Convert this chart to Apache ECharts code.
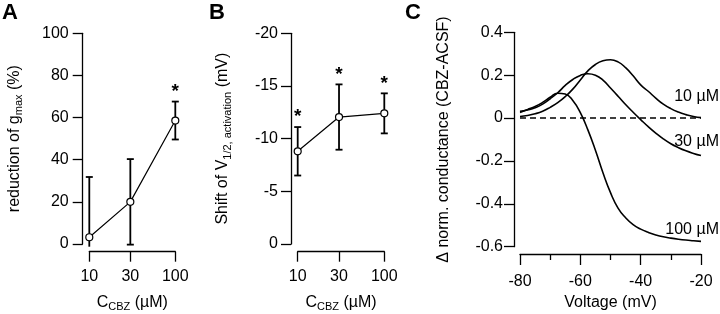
<!DOCTYPE html>
<html>
<head>
<meta charset="utf-8">
<script src="https://cdn.jsdelivr.net/npm/echarts@6/dist/echarts.min.js"></script>
<style>
html, body { margin: 0; padding: 0; background: #fff; }
#chart { width: 720px; height: 314px; }
</style>
</head>
<body>
<div id="chart"></div>
<script>
// A and B: CBZ concentrations (µM)
var conc = [10, 30, 100];
var gmaxMean = [3.2, 20, 58.6];
var gmaxSd = [28.6, 20.3, 9];
var gmaxSig = [0, 0, 1];
var shiftMean = [-8.8, -12.05, -12.4];
var shiftSd = [2.3, 3.1, 1.9];
var shiftSig = [1, 1, 1];

// C: conductance difference vs voltage
var voltage = [-80, -77.5, -75, -72.5, -70, -67.5, -65, -62.5, -60, -57.5, -55, -52.5, -50,
  -47.5, -45, -42.5, -40, -37.5, -35, -32.5, -30, -27.5, -25, -22.5, -20];
var g10 = [0.007, 0.012, 0.02, 0.032, 0.05, 0.072, 0.1, 0.135, 0.178, 0.22, 0.25, 0.267, 0.272,
  0.262, 0.235, 0.197, 0.155, 0.125, 0.093, 0.065, 0.044, 0.028, 0.016, 0.007, 0.002];
var g30 = [0.031, 0.038, 0.048, 0.065, 0.09, 0.118, 0.152, 0.18, 0.199, 0.207, 0.2, 0.177, 0.14,
  0.102, 0.063, 0.027, -0.007, -0.04, -0.07, -0.097, -0.12, -0.138, -0.153, -0.165, -0.175];
var g100 = [0.026, 0.04, 0.054, 0.073, 0.097, 0.116, 0.112, 0.082, 0.025, -0.055, -0.15, -0.255, -0.348,
  -0.42, -0.465, -0.497, -0.518, -0.533, -0.545, -0.554, -0.56, -0.565, -0.569, -0.572, -0.575];
var curveNames = ['10 µM', '30 µM', '100 µM'];

var FONT = 'Liberation Sans, Arial, sans-serif';
var rich = {
  n: { fontFamily: FONT, fontSize: 16, color: '#000' },
  s: { fontFamily: FONT, fontSize: 11, color: '#000', verticalAlign: 'bottom', padding: [0, 0, -2, 0] }
};

function pairs(xs, ys) {
  return xs.map(function (x, i) { return [x, ys[i]]; });
}

// vertical SD bars with caps, clipped just below the axis, plus the significance star
function errorBars(mean, sd, sig) {
  return function (params, api) {
    var i = params.dataIndex;
    var x = conc[i];
    var p1 = api.coord([x, mean[i] + sd[i]]);
    var p2 = api.coord([x, mean[i] - sd[i]]);
    var yTop = Math.min(p1[1], p2[1]);
    var yBot = Math.max(p1[1], p2[1]);
    var floor = params.coordSys.y + params.coordSys.height + 2.7;
    var capBot = true;
    if (yBot > floor) { yBot = floor; capBot = false; }
    var cx = p1[0];
    var st = { stroke: '#000', lineWidth: 1.8 };
    var kids = [
      { type: 'line', shape: { x1: cx, y1: yTop, x2: cx, y2: yBot }, style: st },
      { type: 'line', shape: { x1: cx - 3.5, y1: yTop, x2: cx + 3.5, y2: yTop }, style: st }
    ];
    if (capBot) {
      kids.push({ type: 'line', shape: { x1: cx - 3.5, y1: yBot, x2: cx + 3.5, y2: yBot }, style: st });
    }
    if (sig[i]) {
      kids.push({ type: 'text', style: { text: '*', x: cx, y: yTop - 10, align: 'center',
        verticalAlign: 'middle', font: 'bold 19px ' + FONT, fill: '#000' } });
    }
    return { type: 'group', children: kids };
  };
}

var axisLineStyle = { color: '#000', width: 1.3 };

function concAxis(idx, offset) {
  return {
    type: 'log', gridIndex: idx, min: 10, max: 100, logBase: 10, offset: offset,
    name: '{n|C}{s|CBZ}{n| (µM)}', nameLocation: 'middle', nameGap: 43,
    nameTextStyle: { rich: rich },
    axisLine: { show: true, onZero: false, lineStyle: axisLineStyle },
    axisTick: { show: true, length: 10, lineStyle: axisLineStyle, customValues: conc },
    axisLabel: { margin: 17, fontFamily: FONT, fontSize: 16, color: '#000', customValues: conc,
      formatter: function (v) { return String(Math.round(v)); } },
    splitLine: { show: false }, minorTick: { show: false }
  };
}

function valueAxis(idx, opts) {
  var base = {
    type: 'value', gridIndex: idx, nameLocation: 'middle',
    nameTextStyle: { rich: rich, fontFamily: FONT, fontSize: 16, color: '#000' },
    axisLine: { show: true, onZero: false, lineStyle: axisLineStyle },
    axisTick: { show: true, length: 10, lineStyle: axisLineStyle },
    axisLabel: { fontFamily: FONT, fontSize: 16, color: '#000' },
    splitLine: { show: false }
  };
  for (var k in opts) {
    if (typeof opts[k] === 'object' && base[k] && !Array.isArray(opts[k])) {
      for (var j in opts[k]) base[k][j] = opts[k][j];
    } else {
      base[k] = opts[k];
    }
  }
  return base;
}

function meanSeries(idx, mean) {
  return {
    type: 'line', xAxisIndex: idx, yAxisIndex: idx, data: pairs(conc, mean), z: 5,
    symbol: 'circle', symbolSize: 7,
    itemStyle: { color: '#fff', borderColor: '#000', borderWidth: 1.2 },
    lineStyle: { color: '#000', width: 1.2 }
  };
}

function curveSeries(k, ys, dy) {
  return {
    type: 'line', name: curveNames[k], xAxisIndex: 2, yAxisIndex: 2, data: pairs(voltage, ys),
    smooth: true, showSymbol: false, symbol: 'none', z: 4,
    lineStyle: { color: '#000', width: 1.6 },
    endLabel: { show: true, formatter: '{a}', align: 'right', verticalAlign: 'middle',
      distance: 0, offset: [18, dy], fontFamily: FONT, fontSize: 16, color: '#000' }
  };
}

var chart = echarts.init(document.getElementById('chart'), null, { renderer: 'canvas' });

var first = curveSeries(0, g10, -21);
first.markLine = {
  silent: true, symbol: 'none', label: { show: false }, z: 2,
  lineStyle: { color: '#000', width: 1.5, type: [6, 4] },
  data: [{ yAxis: 0 }]
};

chart.setOption({
  animation: false,
  backgroundColor: '#fff',
  grid: [
    { left: 89.3, top: 33.3, width: 86, height: 210.7, outerBoundsMode: 'none' },
    { left: 297.7, top: 33.3, width: 86.6, height: 210.7, outerBoundsMode: 'none' },
    { left: 520, top: 32.3, width: 181, height: 214.4, outerBoundsMode: 'none' }
  ],
  xAxis: [
    concAxis(0, 7.7),
    concAxis(1, 7.7),
    valueAxis(2, {
      min: -80, max: -20, interval: 20, offset: 7.3,
      name: 'Voltage (mV)', nameGap: 41,
      axisTick: { length: 11 },
      minorTick: { show: true, splitNumber: 2, length: 6, lineStyle: axisLineStyle },
      axisLabel: { margin: 20 }
    })
  ],
  yAxis: [
    valueAxis(0, {
      min: 0, max: 100, interval: 20, offset: 6.6,
      name: '{n|reduction of g}{s|max}{n| (%)}', nameGap: 60,
      axisLabel: { margin: 14 }
    }),
    valueAxis(1, {
      min: -20, max: 0, interval: 5, inverse: true, offset: 6.7,
      name: '{n|Shift of V}{s|1/2, activation}{n| (mV)}', nameGap: 60,
      axisLabel: { margin: 13 }
    }),
    valueAxis(2, {
      min: -0.6, max: 0.4, interval: 0.2, offset: 6,
      name: 'Δ norm. conductance (CBZ-ACSF)', nameGap: 62,
      axisLabel: { margin: 11 }
    })
  ],
  graphic: [
    { type: 'text', left: 2, top: 2, style: { text: 'A', font: 'bold 22px ' + FONT, fill: '#000' } },
    { type: 'text', left: 209, top: 2, style: { text: 'B', font: 'bold 22px ' + FONT, fill: '#000' } },
    { type: 'text', left: 405, top: 2, style: { text: 'C', font: 'bold 22px ' + FONT, fill: '#000' } }
  ],
  series: [
    { type: 'custom', xAxisIndex: 0, yAxisIndex: 0, data: pairs(conc, gmaxMean), clip: false, z: 3,
      renderItem: errorBars(gmaxMean, gmaxSd, gmaxSig) },
    meanSeries(0, gmaxMean),
    { type: 'custom', xAxisIndex: 1, yAxisIndex: 1, data: pairs(conc, shiftMean), clip: false, z: 3,
      renderItem: errorBars(shiftMean, shiftSd, shiftSig) },
    meanSeries(1, shiftMean),
    first,
    curveSeries(1, g30, -14),
    curveSeries(2, g100, -12)
  ]
});
</script>
</body>
</html>
